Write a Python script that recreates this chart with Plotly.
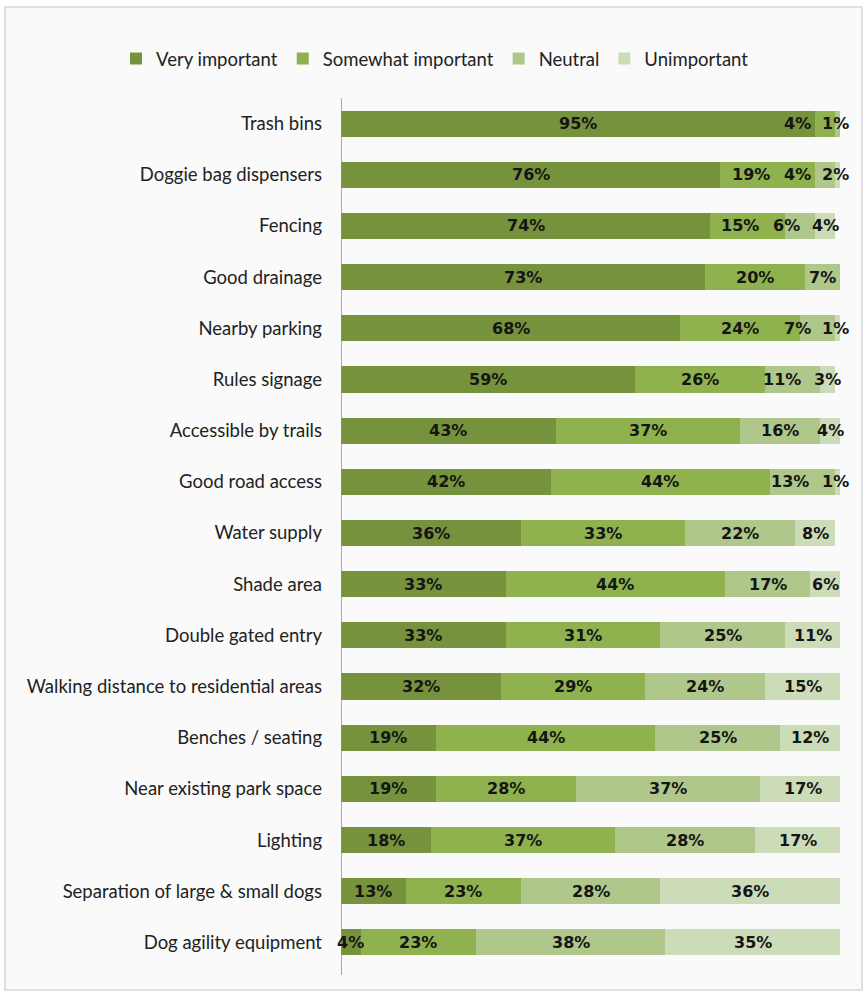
import plotly.graph_objects as go

categories = [
    "Trash bins", "Doggie bag dispensers", "Fencing", "Good drainage",
    "Nearby parking", "Rules signage", "Accessible by trails", "Good road access",
    "Water supply", "Shade area", "Double gated entry",
    "Walking distance to residential areas", "Benches / seating",
    "Near existing park space", "Lighting", "Separation of large & small dogs",
    "Dog agility equipment",
]
very_important =     [95, 76, 74, 73, 68, 59, 43, 42, 36, 33, 33, 32, 19, 19, 18, 13, 4]
somewhat_important = [4, 19, 15, 20, 24, 26, 37, 44, 33, 44, 31, 29, 44, 28, 37, 23, 23]
neutral =            [1, 4, 6, 7, 7, 11, 16, 13, 22, 17, 25, 24, 25, 37, 28, 28, 38]
unimportant =        [0, 2, 4, 0, 1, 3, 4, 1, 8, 6, 11, 15, 12, 17, 17, 36, 35]

series_names = ["Very important", "Somewhat important", "Neutral", "Unimportant"]
series_values = [very_important, somewhat_important, neutral, unimportant]
colors = ["#77923d", "#8fb14e", "#afc78a", "#cddcb8"]

fig = go.Figure()
for name, vals, col in zip(series_names, series_values, colors):
    fig.add_trace(go.Bar(
        y=categories, x=vals, name=name, orientation="h",
        marker=dict(color=col, line=dict(width=0)),
        width=0.51, hoverinfo="x+y+name",
    ))

# data labels: centred in each segment, pushed left where small segments crowd
PX_PER_UNIT = 499 / 100.0
CHAR_PX = 14.0
GAP = 2.2
annotations = []
for i, cat in enumerate(categories):
    items = []
    start = 0
    for vals in series_values:
        v = vals[i]
        if v > 0:
            lab = f"{v}%"
            items.append([start + v / 2.0, lab, len(lab) * CHAR_PX / PX_PER_UNIT])
        start += v
    limit = 102.0
    for it in reversed(items):
        c = min(it[0], limit - it[2] / 2.0)
        it[0] = c
        limit = c - it[2] / 2.0 - GAP
    for c, lab, w in items:
        annotations.append(dict(
            x=c, y=cat, xref="x", yref="y", text=lab, showarrow=False,
            font=dict(family="DejaVu Sans", size=16, color="#151515", weight="bold"),
            xanchor="center", yanchor="middle",
        ))

fig.update_layout(
    width=867, height=997,
    margin=dict(l=341, r=27, t=98, b=29),
    barmode="stack",
    paper_bgcolor="white",
    plot_bgcolor="rgba(0,0,0,0)",
    font=dict(family="Lato", size=18.5, color="#222222"),
    showlegend=True,
    legend=dict(
        orientation="h", x=(116 - 341) / 499, y=(968 - 59) / 870,
        xanchor="left", yanchor="middle",
        font=dict(family="Lato", size=18.5, color="#222222"),
        bgcolor="rgba(0,0,0,0)", traceorder="normal",
    ),
    xaxis=dict(range=[0, 100], visible=False, fixedrange=True),
    yaxis=dict(
        autorange="reversed", showgrid=False, zeroline=False,
        showline=False, ticks="", ticklabelstandoff=18,
        tickfont=dict(family="Lato", size=18.5, color="#222222"),
    ),
    annotations=annotations,
    shapes=[
        dict(type="rect", xref="paper", yref="paper",
             x0=(5 - 341) / 499, x1=(862 - 341) / 499,
             y0=(968 - 990) / 870, y1=(968 - 7) / 870,
             fillcolor="#fafafa", line=dict(color="#d6d6d6", width=1.5),
             layer="below"),
        dict(type="line", xref="x", yref="paper", x0=0, x1=0,
             y0=(968 - 975) / 870, y1=1.0,
             line=dict(color="#8c8c8c", width=1.5), layer="above"),
    ],
)

fig.write_html("out.html", config={"displayModeBar": False},
               post_script="document.body.style.margin='0';")
